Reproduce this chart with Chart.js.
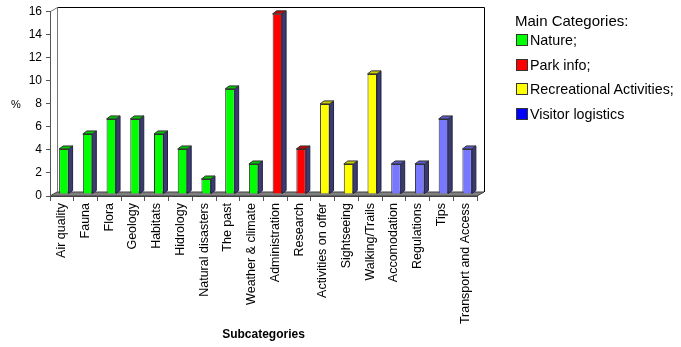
<!DOCTYPE html>
<html>
<head>
<meta charset="utf-8">
<script src="https://cdn.jsdelivr.net/npm/chart.js@4.4.1/dist/chart.umd.min.js"></script>
<style>
  html, body { margin: 0; padding: 0; background: #ffffff; }
  #wrap { position: relative; width: 681px; height: 347px; font-family: "Liberation Sans", Arial, sans-serif; }
  #chart { position: absolute; left: 0; top: 0; }
  #legend { position: absolute; left: 0; top: 0; width: 681px; height: 347px; pointer-events: none; color: #000; }
  #legend .title { position: absolute; left: 515px; top: 12px; font-size: 15px; line-height: 18px; white-space: nowrap; }
  #legend .item { position: absolute; left: 516px; font-size: 14.3px; line-height: 16px; white-space: nowrap; }
  #legend .box { display: inline-block; width: 10px; height: 10px; border: 1px solid #333; vertical-align: -1px; margin-right: 2px; }
</style>
</head>
<body>
<div id="wrap">
  <canvas id="chart" width="681" height="347"></canvas>
  <div id="legend"></div>
</div>
<script>
// Share of each subcategory (%)
const subcategories = [
  'Air quality', 'Fauna', 'Flora', 'Geology', 'Habitats', 'Hidrology',
  'Natural disasters', 'The past', 'Weather & climate', 'Administration',
  'Research', 'Activities on offer', 'Sightseeing', 'Walking/Trails',
  'Accomodation', 'Regulations', 'Tips', 'Transport and Access'
];
const shares = [3.9, 5.2, 6.5, 6.5, 5.2, 3.9, 1.3, 9.1, 2.6, 15.6, 3.9, 7.8, 2.6, 10.4, 2.6, 2.6, 6.5, 3.9];
const mainCategoryOf = [
  'Nature', 'Nature', 'Nature', 'Nature', 'Nature', 'Nature', 'Nature', 'Nature', 'Nature',
  'Park info', 'Park info',
  'Recreational Activities', 'Recreational Activities', 'Recreational Activities',
  'Visitor logistics', 'Visitor logistics', 'Visitor logistics', 'Visitor logistics'
];
const mainCategories = ['Nature', 'Park info', 'Recreational Activities', 'Visitor logistics'];
const legendLabels = ['Nature;', 'Park info;', 'Recreational Activities;', 'Visitor logistics'];
const yTickValues = [0, 2, 4, 6, 8, 10, 12, 14, 16];

// Colours per main category: front face, top face, legend swatch
const palette = {
  'Nature':                  { front: '#00ff00', top: '#00c400', swatch: '#00ff00' },
  'Park info':               { front: '#ff0000', top: '#c80000', swatch: '#ff0000' },
  'Recreational Activities': { front: '#ffff00', top: '#cccc00', swatch: '#ffff00' },
  'Visitor logistics':       { front: '#7777ff', top: '#5a5ad0', swatch: '#0000ff' }
};
const SIDE_COLOR = '#3b3b70';
const FONT = '"Liberation Sans", Arial, sans-serif';

// Depth of the box (walls/floor) and of each bar
const WALL_DX = 7, WALL_DY = 4;
const BAR_SHIFT_X = 2, BAR_SHIFT_Y = -2;
const BAR_DX = 4, BAR_DY = 3;

// Legend
const legendEl = document.getElementById('legend');
const title = document.createElement('div');
title.className = 'title';
title.textContent = 'Main Categories:';
legendEl.appendChild(title);
const legendCenters = [40, 64.5, 89, 113.5];
legendLabels.forEach((label, i) => {
  const item = document.createElement('div');
  item.className = 'item';
  item.style.top = (legendCenters[i] - 8) + 'px';
  const box = document.createElement('span');
  box.className = 'box';
  box.style.background = palette[mainCategories[i]].swatch;
  item.appendChild(box);
  item.appendChild(document.createTextNode(label));
  legendEl.appendChild(item);
});

// Back wall, side wall and floor of the 3D box
const boxPlugin = {
  id: 'box3d',
  beforeDraw(chart) {
    const { ctx, chartArea: a } = chart;
    const L = a.left, R = a.right, T = a.top, B = a.bottom;
    ctx.save();
    ctx.lineWidth = 1;
    // back wall
    ctx.fillStyle = '#ffffff';
    ctx.fillRect(L + WALL_DX, T - WALL_DY, R - L, B - T);
    // floor
    ctx.beginPath();
    ctx.moveTo(L, B);
    ctx.lineTo(R, B);
    ctx.lineTo(R + WALL_DX, B - WALL_DY);
    ctx.lineTo(L + WALL_DX, B - WALL_DY);
    ctx.closePath();
    ctx.fillStyle = '#808080';
    ctx.fill();
    ctx.strokeStyle = '#404040';
    ctx.stroke();
    // back wall top and right edges
    ctx.strokeStyle = '#000000';
    ctx.beginPath();
    ctx.moveTo(Math.round(L + WALL_DX) + 0.5, Math.round(T - WALL_DY) + 0.5);
    ctx.lineTo(Math.round(R + WALL_DX) + 0.5, Math.round(T - WALL_DY) + 0.5);
    ctx.lineTo(Math.round(R + WALL_DX) + 0.5, B - WALL_DY);
    ctx.stroke();
    // back wall left edge and top diagonal of the side wall
    ctx.strokeStyle = '#777777';
    ctx.beginPath();
    ctx.moveTo(Math.round(L + WALL_DX) + 0.5, B - WALL_DY);
    ctx.lineTo(Math.round(L + WALL_DX) + 0.5, Math.round(T - WALL_DY) + 0.5);
    ctx.lineTo(Math.round(L) + 0.5, Math.round(T) + 0.5);
    ctx.stroke();
    ctx.restore();
  },
  beforeDatasetsDraw(chart) {
    chart.ctx.save();
    chart.ctx.translate(BAR_SHIFT_X, BAR_SHIFT_Y);
  },
  afterDatasetsDraw(chart) {
    const ctx = chart.ctx;
    const meta = chart.getDatasetMeta(0);
    meta.data.forEach((bar, i) => {
      const { x, y, base, width } = bar.getProps(['x', 'y', 'base', 'width'], true);
      const left = x - width / 2, right = x + width / 2;
      const colors = palette[mainCategoryOf[i]];
      ctx.lineWidth = 1;
      ctx.strokeStyle = '#222244';
      // side face
      ctx.beginPath();
      ctx.moveTo(right, y);
      ctx.lineTo(right + BAR_DX, y - BAR_DY);
      ctx.lineTo(right + BAR_DX, base - BAR_DY);
      ctx.lineTo(right, base);
      ctx.closePath();
      ctx.fillStyle = SIDE_COLOR;
      ctx.fill();
      ctx.stroke();
      // top face
      ctx.beginPath();
      ctx.moveTo(left, y);
      ctx.lineTo(left + BAR_DX, y - BAR_DY);
      ctx.lineTo(right + BAR_DX, y - BAR_DY);
      ctx.lineTo(right, y);
      ctx.closePath();
      ctx.fillStyle = colors.top;
      ctx.fill();
      ctx.strokeStyle = '#333333';
      ctx.stroke();
    });
    ctx.restore();
  },
  afterDraw(chart) {
    // upright "%" axis label
    const ctx = chart.ctx;
    const yScale = chart.scales.y;
    ctx.save();
    ctx.fillStyle = '#000000';
    ctx.font = '11px ' + FONT;
    ctx.textAlign = 'center';
    ctx.textBaseline = 'middle';
    ctx.fillText('%', 16, (yScale.top + yScale.bottom) / 2 + 1);
    ctx.restore();
  }
};

new Chart(document.getElementById('chart'), {
  type: 'bar',
  data: {
    labels: subcategories,
    datasets: [{
      data: shares,
      backgroundColor: mainCategoryOf.map(c => palette[c].front),
      borderColor: '#333333',
      borderWidth: 1,
      barPercentage: 0.4,
      categoryPercentage: 1.0
    }]
  },
  options: {
    responsive: false,
    animation: false,
    devicePixelRatio: 1,
    layout: { padding: { top: 7.5, right: 204, bottom: 0, left: 0 } },
    plugins: {
      legend: { display: false },
      tooltip: { enabled: false }
    },
    scales: {
      x: {
        grid: { drawOnChartArea: false, drawTicks: true, tickLength: 5, color: '#555555' },
        border: { display: true, color: '#404040' },
        ticks: {
          autoSkip: false,
          minRotation: 90,
          maxRotation: 90,
          padding: 2,
          color: '#000000',
          font: { family: FONT, size: 12.5 }
        },
        title: {
          display: true,
          text: 'Subcategories',
          color: '#000000',
          font: { family: FONT, size: 12, weight: 'bold' },
          padding: { top: 0, bottom: 5 }
        },
        afterFit(scale) { scale.height = 151; }
      },
      y: {
        min: 0,
        max: 16,
        afterBuildTicks(scale) { scale.ticks = yTickValues.map(v => ({ value: v })); },
        grid: { drawOnChartArea: false, drawTicks: true, tickLength: 4, color: '#555555' },
        border: { display: true, color: '#555555' },
        ticks: {
          padding: 4,
          color: '#000000',
          font: { family: FONT, size: 12 }
        },
        afterFit(scale) { scale.width = 50; }
      }
    }
  },
  plugins: [boxPlugin]
});
</script>
</body>
</html>
